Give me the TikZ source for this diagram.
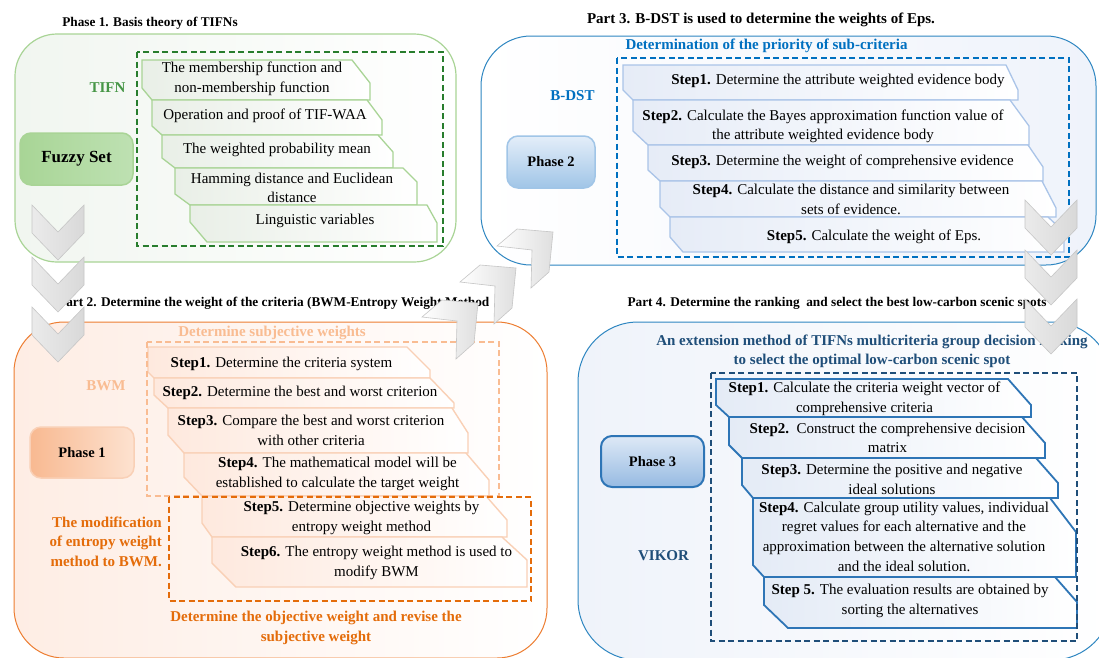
\documentclass[tikz,border=0pt]{standalone}
\usepackage{fontspec}
\setmainfont{Liberation Serif}

% colours
\definecolor{grnB}{RGB}{169,212,150}
\definecolor{grnD}{RGB}{40,125,45}
\definecolor{grnT}{RGB}{70,150,70}
\definecolor{grnF}{RGB}{241,246,240}
\definecolor{grnS}{RGB}{233,239,231}
\definecolor{fzA}{RGB}{168,213,150}
\definecolor{fzB}{RGB}{222,239,214}
\definecolor{fzC}{RGB}{190,225,178}
\definecolor{bluB}{RGB}{46,134,193}
\definecolor{bluD}{RGB}{0,112,192}
\definecolor{bluS}{RGB}{170,196,232}
\definecolor{bluF}{RGB}{239,243,251}
\definecolor{bluSF}{RGB}{230,236,247}
\definecolor{ptwoA}{RGB}{228,238,249}
\definecolor{ptwoB}{RGB}{160,197,231}
\definecolor{orgB}{RGB}{237,125,49}
\definecolor{orgL}{RGB}{249,188,146}
\definecolor{orgS}{RGB}{249,208,182}
\definecolor{orgD}{RGB}{228,108,10}
\definecolor{orgF}{RGB}{254,237,228}
\definecolor{orgSF}{RGB}{254,233,222}
\definecolor{poneA}{RGB}{248,185,145}
\definecolor{poneB}{RGB}{253,226,208}
\definecolor{navB}{RGB}{46,117,182}
\definecolor{navD}{RGB}{31,78,121}
\definecolor{navF}{RGB}{239,243,250}
\definecolor{navSF}{RGB}{228,235,246}
\definecolor{pthrA}{RGB}{222,233,246}
\definecolor{pthrB}{RGB}{150,186,226}

% step shape: style, L, T, cut start, R, cut end, B, bottom left x, left cut y
\newcommand{\stepbox}[9]{\draw[#1] (#2,#3) -- (#4,#3) -- (#5,#6) -- (#5,#7) -- (#8,#7) -- (#2,#9) -- cycle;}
% grey chevron pointing down, top left corner given
\newcommand{\chevdown}[2]{\draw[chev] (#1,#2) -- ++(26,27) -- ++(26,-27) -- ++(0,28) -- ++(-26,27) -- ++(-26,-27) -- cycle;}
% grey chevron pointing up right, tip given
\newcommand{\chevdiag}[2]{\draw[chevd] (#1,#2) -- ++(-36,-3) -- ++(-20,17) -- ++(35,4) -- ++(-1,38) -- ++(18,-16) -- cycle;}

\begin{document}
\begin{tikzpicture}[x=1pt,y=-1pt,
  txt/.style={font=\fontsize{15}{19.6}\selectfont, align=center, inner sep=0pt},
  lbl/.style={font=\bfseries\fontsize{15}{19.6}\selectfont, align=center, inner sep=0pt},
  ttl/.style={font=\bfseries\fontsize{13.3}{16}\selectfont, inner sep=0pt},
  phase/.style={rounded corners=11pt, line width=1.5pt, inner sep=0pt,
    font=\bfseries\fontsize{14.5}{17}\selectfont},
  dashbox/.style={line width=2.4pt, dash pattern=on 6pt off 3.5pt},
  gstep/.style={draw=grnB, line width=1.3pt, left color=grnS, right color=white},
  bstep/.style={draw=bluS, line width=1.3pt, left color=bluSF, right color=white},
  ostep/.style={draw=orgS, line width=1.4pt, left color=orgSF, right color=white},
  vstep/.style={draw=navB, line width=1.8pt, left color=navSF, right color=white},
  chev/.style={draw=gray!45, line width=0.6pt, left color=gray!16, middle color=white, right color=gray!30},
  chevd/.style={draw=gray!45, line width=0.6pt, left color=white, right color=gray!25}]

  \useasboundingbox (0,0) rectangle (1099,657);
  \fill[white] (0,0) rectangle (1099,657);

  % Panels
  \draw[draw=grnB, line width=1.2pt, rounded corners=42pt, left color=grnF, right color=white]
    (15,34) rectangle (456,262);
  \draw[draw=bluB, line width=1pt, rounded corners=50pt, left color=white, right color=bluF]
    (481,36) rectangle (1096,265);
  \draw[draw=orgB, line width=1pt, rounded corners=50pt, left color=orgF, right color=white]
    (14,322) rectangle (547,658);
  \draw[draw=bluB, line width=1pt, rounded corners=60pt, left color=navF, right color=white]
    (578,322) rectangle (1112,660);

  % Titles
  \node[ttl] (t1) at (150,23) {Phase 1. Basis theory of TIFNs};
  \node[ttl, font=\bfseries\fontsize{15}{18}\selectfont] (t3) at (761,20)
    {Part 3. B-DST is used to determine the weights of Eps.};
  \node[ttl, anchor=west] (t2) at (58,303)
    {Part 2. Determine the weight of the criteria (BWM-Entropy Weight Method};
  \node[ttl] (t4) at (837,303)
    {Part 4. Determine the ranking~ and select the best low-carbon scenic spots};

  % Phase 1 steps (TIFN)
  \stepbox{gstep}{142}{60}{352}{370}{83}{100}{152}{88}
  \stepbox{gstep}{152}{100}{367}{382}{120}{135}{162}{126}
  \stepbox{gstep}{162}{135}{378}{393}{152}{168}{175}{158}
  \stepbox{gstep}{175}{168}{403}{417}{182}{205}{190}{194}
  \stepbox{gstep}{190}{205}{427}{437}{223}{242}{207}{222}
  \node[txt] (g1) at (252,79) {The membership function and\\non-membership function};
  \node[txt] (g2) at (265,116) {Operation and proof of TIF-WAA};
  \node[txt] (g3) at (277,150) {The weighted probability mean};
  \node[txt] (g4) at (292,188) {Hamming distance and Euclidean\\distance};
  \node[txt] (g5) at (315,221) {Linguistic variables};

  % B-DST steps
  \stepbox{bstep}{623}{65}{1006}{1018}{90}{100}{633}{90}
  \stepbox{bstep}{633}{100}{1010}{1029}{126}{145}{648}{131}
  \stepbox{bstep}{648}{145}{1028}{1043}{167}{181}{660}{170}
  \stepbox{bstep}{660}{181}{1042}{1056}{208}{217}{670}{207}
  \stepbox{bstep}{670}{217}{1048}{1064}{232}{252}{683}{237}
  \node[txt] (b1) at (838,81) {\textbf{Step1.} Determine the attribute weighted evidence body};
  \node[txt] (b2) at (823,126.5) {\textbf{Step2.} Calculate the Bayes approximation function value of\\the attribute weighted evidence body};
  \node[txt] (b3) at (842.5,162) {\textbf{Step3.} Determine the weight of comprehensive evidence};
  \node[txt] (b4) at (851,199.5) {\textbf{Step4.} Calculate the distance and similarity between\\sets of evidence.};
  \node[txt] (b5) at (874,237) {\textbf{Step5.} Calculate the weight of Eps.};

  % BWM steps
  \stepbox{ostep}{148}{347}{407}{430}{370}{378}{154}{372}
  \stepbox{ostep}{154}{378}{430}{454}{403}{408}{168}{395}
  \stepbox{ostep}{168}{408}{452}{468}{433}{453}{184}{435}
  \stepbox{ostep}{184}{453}{466}{489}{480}{496}{202}{477}
  \stepbox{ostep}{202}{496}{486}{507}{520}{537}{212}{523}
  \stepbox{ostep}{212}{537}{502}{527}{560}{587}{236}{563}
  \node[txt] (o1) at (281.5,364) {\textbf{Step1.} Determine the criteria system};
  \node[txt] (o2) at (300,393) {\textbf{Step2.} Determine the best and worst criterion};
  \node[txt] (o3) at (311,430.5) {\textbf{Step3.} Compare the best and worst criterion\\with other criteria};
  \node[txt] (o4) at (337.5,474) {\textbf{Step4.} The mathematical model will be\\established to calculate the target weight};
  \node[txt] (o5) at (361.5,518) {\textbf{Step5.} Determine objective weights by\\entropy weight method};
  \node[txt] (o6) at (376.5,563) {\textbf{Step6.} The entropy weight method is used to\\modify BWM};

  % VIKOR steps
  \stepbox{vstep}{716}{379}{1008}{1031}{405}{417}{729}{405}
  \stepbox{vstep}{729}{417}{1022}{1045}{443}{458}{742}{445}
  \stepbox{vstep}{742}{458}{1036}{1058}{483}{498}{753}{485}
  \stepbox{vstep}{753}{498}{1050}{1076}{532}{577}{764}{565}
  \stepbox{vstep}{764}{577}{1055}{1077}{602}{628}{788}{605}
  \node[txt] (v1) at (864.5,399) {\textbf{Step1.} Calculate the criteria weight vector of\\comprehensive criteria};
  \node[txt] (v2) at (887.5,438) {\textbf{Step2.}\ \ Construct the comprehensive decision\\matrix};
  \node[txt] (v3) at (892,479.5) {\textbf{Step3.} Determine the positive and negative\\ideal solutions};
  \node[txt] (v4) at (904,536.5) {\textbf{Step4.} Calculate group utility values, individual\\regret values for each alternative and the\\approximation between the alternative solution\\and the ideal solution.};
  \node[txt] (v5) at (910,601) {\textbf{Step 5.} The evaluation results are obtained by\\sorting the alternatives};

  % Dashed groups
  \draw[grnD, dashbox] (137,52) rectangle (443,246);
  \draw[bluD, dashbox] (617,58) rectangle (1069,257);
  \draw[orgL, dashbox] (147,342) rectangle (499,496);
  \draw[orgD, dashbox] (169,497) rectangle (531,601);
  \draw[navD, dashbox] (711,373) rectangle (1077,641);

  % Method labels
  \node[lbl, grnT] (tifn) at (107.5,88) {TIFN};
  \node[lbl, bluD] (bdst) at (572.5,96) {B-DST};
  \node[lbl, orgL] (bwm) at (106,386) {BWM};
  \node[lbl, navD] (vikor) at (663.5,556) {VIKOR};
  \node[lbl, bluD] (prio) at (766.5,46) {Determination of the priority of sub-criteria};
  \node[lbl, orgL] (subj) at (272,333) {Determine subjective weights};
  \node[lbl, navD] (ext) at (872,351.5)
    {An extension method of TIFNs multicriteria group decision making\\to select the optimal low-carbon scenic spot};
  \node[lbl, orgD] (obj) at (316,628)
    {Determine the objective weight and revise the\\subjective weight};
  \node[lbl, orgD, align=right, anchor=east] (modif) at (162,541.5)
    {The modification\\of entropy weight\\method to BWM.};

  % Phase boxes
  \node[phase, draw=grnB, left color=fzA, middle color=fzB, right color=fzC,
    minimum width=113pt, minimum height=52pt,
    font=\bfseries\fontsize{17}{20}\selectfont] (fuzzy) at (76.5,159) {Fuzzy Set};
  \node[phase, draw=ptwoB, top color=ptwoA, bottom color=ptwoB,
    minimum width=88pt, minimum height=52pt] (ph2) at (551,162) {Phase 2};
  \node[phase, draw=orgS, left color=poneA, right color=poneB,
    minimum width=104pt, minimum height=51pt] (ph1) at (82,452.5) {Phase 1};
  \node[phase, draw=navB, line width=2pt, top color=pthrA, bottom color=pthrB,
    minimum width=103pt, minimum height=51pt] (ph3) at (652.5,461.5) {Phase 3};

  % Chevrons
  \chevdown{32}{205}
  \chevdown{32}{257}
  \chevdown{32}{307}
  \chevdown{1025}{200}
  \chevdown{1025}{250}
  \chevdown{1025}{299}
  \chevdiag{478}{303}
  \chevdiag{516}{268}
  \chevdiag{553}{232}
\end{tikzpicture}
\end{document}
